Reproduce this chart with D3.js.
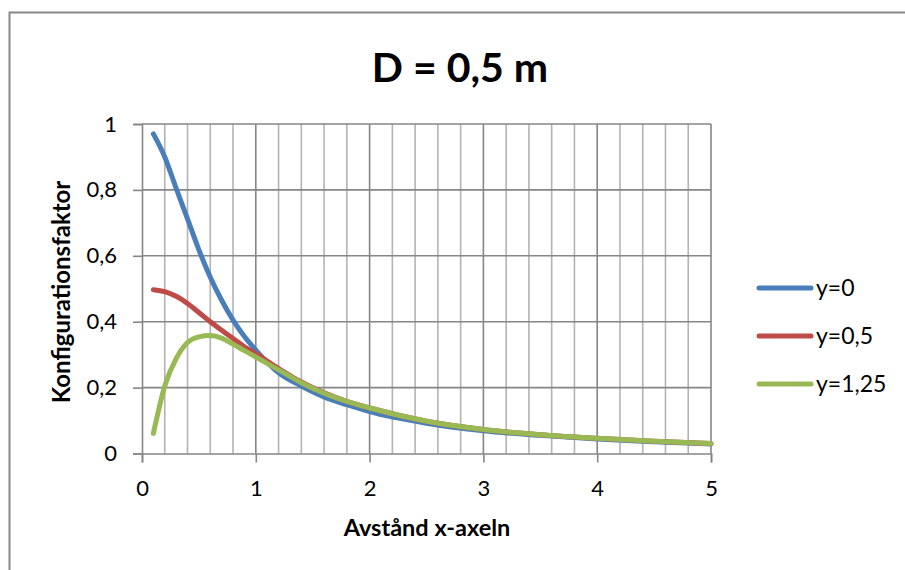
<!DOCTYPE html>
<html>
<head>
<meta charset="utf-8">
<script src="https://cdn.jsdelivr.net/npm/d3@7"></script>
<style>
  html, body { margin: 0; padding: 0; background: #fff; }
  svg { display: block; }
  text { font-family: Lato, "Open Sans", sans-serif; fill: #000; }
</style>
</head>
<body>
<div id="chart"></div>
<script>
// ---- data ----
const xValues = [0.1,0.2,0.3,0.4,0.5,0.6,0.7,0.8,0.9,1.0,1.2,1.4,1.6,1.8,2.0,2.5,3.0,3.5,4.0,4.5,5.0];
const seriesY0   = [0.970,0.900,0.805,0.712,0.618,0.535,0.465,0.405,0.355,0.314,0.245,0.205,0.172,0.148,0.127,0.092,0.069,0.055,0.044,0.036,0.029];
const seriesY05  = [0.497,0.491,0.477,0.455,0.428,0.400,0.374,0.349,0.324,0.303,0.258,0.217,0.184,0.158,0.138,0.098,0.073,0.057,0.046,0.037,0.030];
const seriesY125 = [0.061,0.205,0.288,0.337,0.354,0.358,0.350,0.332,0.312,0.293,0.254,0.215,0.183,0.158,0.138,0.098,0.073,0.057,0.046,0.037,0.030];
const seriesNames = ["y=0", "y=0,5", "y=1,25"];
const xTicks = [0,1,2,3,4,5];
const yTicks = [0,0.2,0.4,0.6,0.8,1];
const title = "D = 0,5 m";
const xTitle = "Avstånd x-axeln";
const yTitle = "Konfigurationsfaktor";

// ---- layout ----
const W = 905, H = 570;
const colors = ["#4A7EBB", "#BE4B48", "#98B954"];
const fmt = v => String(v).replace(".", ",");

const svg = d3.select("#chart").append("svg").attr("width", W).attr("height", H);

// chart frame
svg.append("rect")
  .attr("x", 9.5).attr("y", 12.5).attr("width", 1000).attr("height", 1000)
  .attr("fill", "#fff").attr("stroke", "#888").attr("stroke-width", 2);

const x = d3.scaleLinear().domain([0, 5]).range([142, 711]);
const y = d3.scaleLinear().domain([0, 1]).range([453.5, 124]);

// minor vertical gridlines (every 0.2)
const minorX = d3.range(0, 25).map(i => i * 0.2).filter((v, i) => i % 5 !== 0);
svg.append("g").selectAll("line").data(minorX).join("line")
  .attr("x1", d => x(d)).attr("x2", d => x(d))
  .attr("y1", y(0)).attr("y2", y(1))
  .attr("stroke", "#b3b3b3").attr("stroke-width", 1.6);

// major vertical gridlines
svg.append("g").selectAll("line").data(xTicks.slice(1)).join("line")
  .attr("x1", d => x(d)).attr("x2", d => x(d))
  .attr("y1", y(0)).attr("y2", y(1))
  .attr("stroke", "#868686").attr("stroke-width", 1.6);

// horizontal gridlines
svg.append("g").selectAll("line").data(yTicks.slice(1)).join("line")
  .attr("x1", x(0)).attr("x2", x(5))
  .attr("y1", d => y(d)).attr("y2", d => y(d))
  .attr("stroke", "#868686").attr("stroke-width", 1.6);

// y axis
const yAxis = svg.append("g").attr("transform", `translate(${x(0)},0)`)
  .call(d3.axisLeft(y).tickValues(yTicks).tickSize(9).tickPadding(16).tickFormat(fmt));
yAxis.select(".domain").attr("stroke", "#868686").attr("stroke-width", 1.6);
yAxis.selectAll(".tick line").attr("stroke", "#868686").attr("stroke-width", 1.6);
yAxis.selectAll(".tick text").attr("font-size", 22).attr("font-family", "Lato, sans-serif").attr("fill", "#000");

// x axis
const xAxis = svg.append("g").attr("transform", `translate(0,${y(0)})`)
  .call(d3.axisBottom(x).tickValues(xTicks).tickSize(9).tickPadding(18).tickFormat(fmt));
xAxis.select(".domain").attr("stroke", "#868686").attr("stroke-width", 1.6);
xAxis.selectAll(".tick line").attr("stroke", "#868686").attr("stroke-width", 1.6);
xAxis.selectAll(".tick text").attr("font-size", 22).attr("font-family", "Lato, sans-serif").attr("fill", "#000");

// series
const allSeries = [seriesY0, seriesY05, seriesY125];
const line = d3.line().x(d => x(d[0])).y(d => y(d[1])).curve(d3.curveMonotoneX);
allSeries.forEach((vals, i) => {
  svg.append("path")
    .datum(xValues.map((xv, j) => [xv, vals[j]]))
    .attr("d", line)
    .attr("fill", "none")
    .attr("stroke", colors[i])
    .attr("stroke-width", 5)
    .attr("stroke-linecap", "round")
    .attr("stroke-linejoin", "round");
});

// legend
const legendY = [288, 336, 384];
seriesNames.forEach((name, i) => {
  svg.append("line")
    .attr("x1", 759).attr("x2", 811)
    .attr("y1", legendY[i]).attr("y2", legendY[i])
    .attr("stroke", colors[i]).attr("stroke-width", 5).attr("stroke-linecap", "round");
  svg.append("text")
    .attr("x", 816).attr("y", legendY[i])
    .attr("dy", "0.35em")
    .attr("font-size", 23)
    .text(name);
});

// titles
svg.append("text")
  .attr("x", 460).attr("y", 68).attr("dy", "0.35em")
  .attr("text-anchor", "middle")
  .attr("font-size", 41).attr("font-weight", "bold")
  .text(title);

svg.append("text")
  .attr("x", 427).attr("y", 528).attr("dy", "0.35em")
  .attr("text-anchor", "middle")
  .attr("font-size", 23.5).attr("font-weight", "bold")
  .text(xTitle);

svg.append("text")
  .attr("transform", "translate(62,292) rotate(-90)")
  .attr("dy", "0.35em")
  .attr("text-anchor", "middle")
  .attr("font-size", 24).attr("font-weight", "bold")
  .text(yTitle);
</script>
</body>
</html>
